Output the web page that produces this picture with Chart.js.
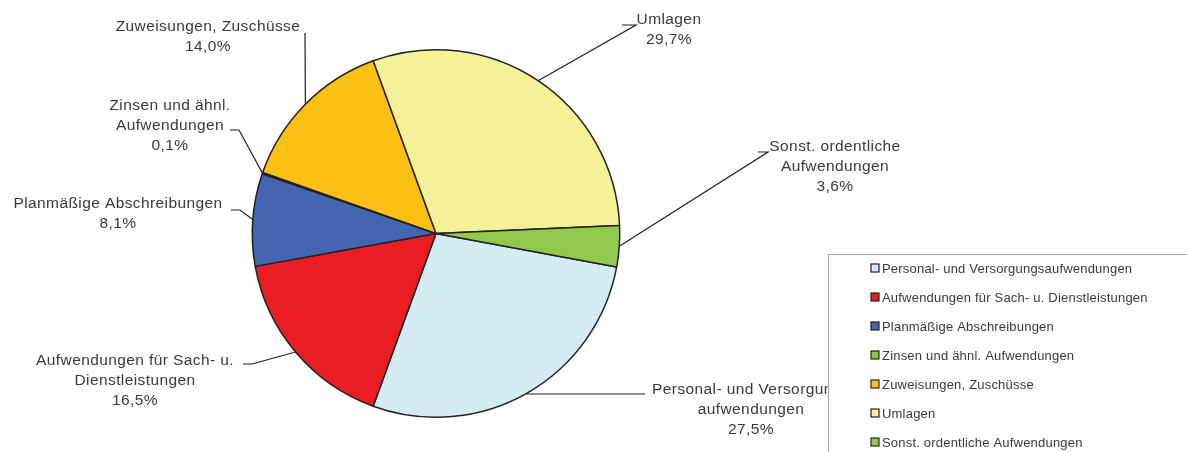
<!DOCTYPE html>
<html>
<head>
<meta charset="utf-8">
<script src="https://cdn.jsdelivr.net/npm/chart.js@4/dist/chart.umd.min.js"></script>
<style>
  html, body { margin: 0; padding: 0; background: #fff; }
  #wrap { width: 1187px; height: 452px; position: relative; }
</style>
</head>
<body>
<div id="wrap"><canvas id="graficoPizza"></canvas></div>
<script>
// Daten
const kategorien = [
    "Personal- und Versorgungsaufwendungen",
    "Aufwendungen für Sach- u. Dienstleistungen",
    "Planmäßige Abschreibungen",
    "Zinsen und ähnl. Aufwendungen",
    "Zuweisungen, Zuschüsse",
    "Umlagen",
    "Sonst. ordentliche Aufwendungen"
];
const anteile = [27.5, 16.5, 8.1, 0.1, 14.0, 29.7, 3.6];
// Beschriftung am Kreis (Zeilenumbruch wie im Original)
const beschriftungen = [
    ["Personal- und Versorgungs", "aufwendungen"],
    ["Aufwendungen für Sach- u.", "Dienstleistungen"],
    ["Planmäßige Abschreibungen"],
    ["Zinsen und ähnl.", "Aufwendungen"],
    ["Zuweisungen, Zuschüsse"],
    ["Umlagen"],
    ["Sonst. ordentliche", "Aufwendungen"]
];
const farben = ['#d4ecf4', '#ec1c24', '#4565b0', '#8cc63f', '#fcbf14', '#f5f199', '#92c84c'];

// Position der Beschriftungen (Mitte x, erste Zeile y) und Knickpunkte der Linien
const labelPos = [
    { x: 751, y: 390, line: [[645, 394], [527, 394]] },
    { x: 135, y: 361, line: [[243, 364], [252, 364]] },
    { x: 118, y: 204, line: [[231, 210], [240, 210]] },
    { x: 170, y: 106, line: [[230, 130], [239, 130]] },
    { x: 208, y: 27,  line: [[305, 33]] },
    { x: 669, y: 20,  line: [[622, 25], [636, 25]] },
    { x: 835, y: 147, line: [[758, 152], [768, 152]] }
];

const schrift = '15.5px "Liberation Sans", Arial, sans-serif';
const legendSchrift = '13px "Liberation Sans", Arial, sans-serif';
const textFarbe = '#3a3a3a';

const beschriftungPlugin = {
    id: 'beschriftung',
    afterDraw(chart) {
        const ctx = chart.ctx;
        const arcs = chart.getDatasetMeta(0).data;
        ctx.save();
        // Linien
        ctx.strokeStyle = '#222';
        ctx.lineWidth = 1.2;
        arcs.forEach((arc, i) => {
            const mid = (arc.startAngle + arc.endAngle) / 2;
            const ax = arc.x + Math.cos(mid) * arc.outerRadius;
            const ay = arc.y + Math.sin(mid) * arc.outerRadius;
            const pts = labelPos[i].line;
            ctx.beginPath();
            ctx.moveTo(pts[0][0], pts[0][1]);
            for (let k = 1; k < pts.length; k++) ctx.lineTo(pts[k][0], pts[k][1]);
            ctx.lineTo(ax, ay);
            ctx.stroke();
        });
        // Texte
        ctx.font = schrift;
        ctx.letterSpacing = '0.4px';
        ctx.fillStyle = textFarbe;
        ctx.textAlign = 'center';
        ctx.textBaseline = 'middle';
        arcs.forEach((arc, i) => {
            const p = labelPos[i];
            const zeilen = beschriftungen[i].concat([anteile[i].toFixed(1).replace('.', ',') + '%']);
            zeilen.forEach((z, k) => ctx.fillText(z, p.x, p.y + k * 20));
        });

        // Legende
        ctx.fillStyle = '#fff';
        ctx.fillRect(828, 254, 400, 220);
        ctx.strokeStyle = '#a6a6a6';
        ctx.lineWidth = 1;
        ctx.strokeRect(828.5, 254.5, 400, 220);
        ctx.font = legendSchrift;
        ctx.letterSpacing = '0.2px';
        ctx.textAlign = 'left';
        kategorien.forEach((name, i) => {
            const y = 268 + i * 29;
            ctx.fillStyle = farben[i];
            ctx.fillRect(871, y - 4, 8, 8);
            ctx.strokeStyle = '#222';
            ctx.lineWidth = 1.2;
            ctx.strokeRect(871, y - 4, 8, 8);
            ctx.fillStyle = textFarbe;
            ctx.fillText(name, 882, y + 1);
        });
        ctx.restore();
    }
};

const ctxPizza = document.getElementById('graficoPizza').getContext('2d');
new Chart(ctxPizza, {
    type: 'pie',
    data: {
        labels: kategorien,
        datasets: [{
            data: anteile,
            backgroundColor: farben,
            borderColor: '#222',
            borderWidth: 1.5
        }]
    },
    options: {
        responsive: true,
        maintainAspectRatio: false,
        animation: false,
        events: [],
        rotation: 100.5,
        layout: { padding: { left: 251, right: 566, top: 49, bottom: 34 } },
        plugins: {
            legend: { display: false },
            tooltip: { enabled: false }
        }
    },
    plugins: [beschriftungPlugin]
});
</script>
</body>
</html>
